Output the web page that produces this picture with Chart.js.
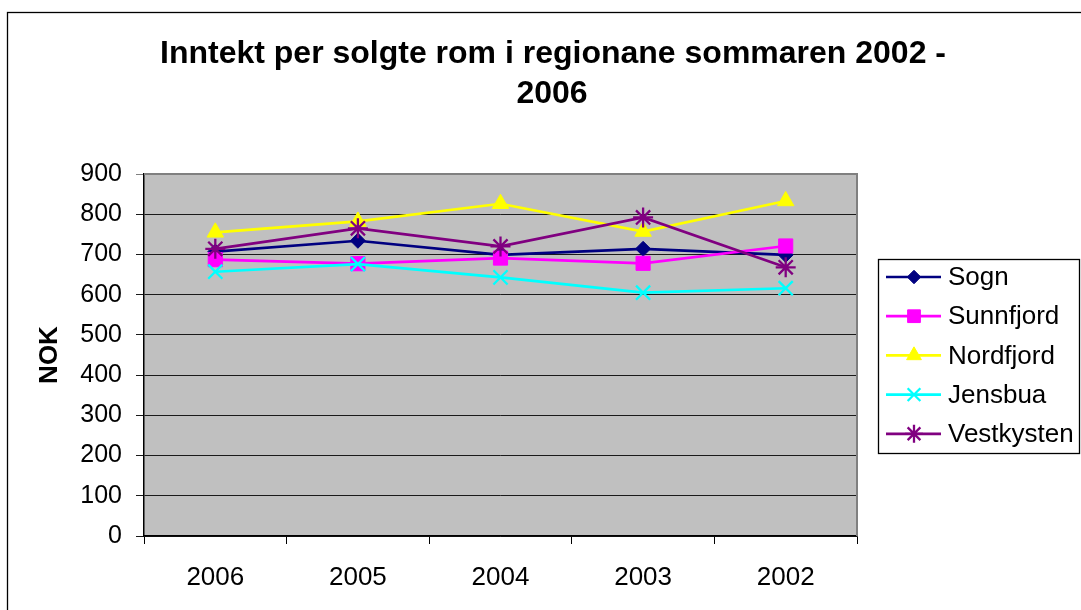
<!DOCTYPE html>
<html>
<head>
<meta charset="utf-8">
<title>Inntekt per solgte rom</title>
<script src="https://cdn.jsdelivr.net/npm/chart.js@4/dist/chart.umd.min.js"></script>
<style>
  html, body { margin: 0; padding: 0; background: #ffffff; }
  #wrap { width: 1081px; height: 610px; }
</style>
</head>
<body>
<div id="wrap"><canvas id="c" width="1081" height="610"></canvas></div>
<script>
// Years on the category axis (newest first)
const years = ['2006', '2005', '2004', '2003', '2002'];

// Income per sold room (NOK) by region
const sogn       = [707, 734, 699, 714, 699];
const sunnfjord  = [687, 677, 691, 678, 721];
const nordfjord  = [755, 782, 826, 757, 833];
const jensbua    = [657, 676, 643, 605, 616];
const vestkysten = [714, 765, 720, 792, 668];

const seriesNames = ['Sogn', 'Sunnfjord', 'Nordfjord', 'Jensbua', 'Vestkysten'];
const yTicks = [0, 100, 200, 300, 400, 500, 600, 700, 800, 900];

const titleLines = ['Inntekt per solgte rom i regionane sommaren 2002 -', '2006'];
const FONT = '"Liberation Sans", Arial, Helvetica, sans-serif';

function series(label, data, color, style, radius, order) {
  const stroked = style === 'crossRot' || style === 'star';
  return {
    label, data,
    borderColor: color,
    backgroundColor: color,
    borderWidth: 2.7,
    tension: 0,
    pointStyle: style,
    pointRadius: radius,
    pointHoverRadius: radius,
    pointBackgroundColor: stroked ? 'rgba(0,0,0,0)' : color,
    pointBorderColor: color,
    pointBorderWidth: stroked ? 2.3 : 1,
    order
  };
}

const datasets = [
  series(seriesNames[0], sogn,       '#000080', 'rectRot',  7.5, 4),
  series(seriesNames[1], sunnfjord,  '#ff00ff', 'rect',     10,  3),
  series(seriesNames[2], nordfjord,  '#ffff00', 'triangle', 9.5, 2),
  series(seriesNames[3], jensbua,    '#00ffff', 'crossRot', 10,  1),
  series(seriesNames[4], vestkysten, '#800080', 'star',     10,  0)
];

// Chart frame, plot background, title and the boxed legend on the right
const decorations = {
  id: 'decorations',
  beforeDraw(chart) {
    const { ctx, chartArea: a } = chart;
    ctx.save();
    ctx.fillStyle = '#ffffff';
    ctx.fillRect(0, 0, chart.width, chart.height);
    ctx.strokeStyle = '#000000';
    ctx.lineWidth = 1.3;
    ctx.strokeRect(7.5, 12.5, 1300, 800);
    ctx.fillStyle = '#c0c0c0';
    ctx.fillRect(a.left, a.top, a.right - a.left, a.bottom - a.top);
    ctx.restore();
  },
  beforeDatasetsDraw(chart) {
    const { ctx, chartArea: a } = chart;
    ctx.save();
    ctx.strokeStyle = '#808080';
    ctx.lineWidth = 2;
    ctx.beginPath();
    ctx.moveTo(a.left, a.top);
    ctx.lineTo(a.right, a.top);
    ctx.lineTo(a.right, a.bottom);
    ctx.stroke();
    ctx.restore();
  },
  afterDraw(chart) {
    const { ctx } = chart;
    ctx.save();
    // title
    ctx.fillStyle = '#000000';
    ctx.font = 'bold 32px ' + FONT;
    ctx.textAlign = 'center';
    ctx.textBaseline = 'middle';
    ctx.fillText(titleLines[0], 553, 54);
    ctx.fillText(titleLines[1], 552, 94);

    // legend box
    const bx = 878, by = 259, bw = 201, bh = 194;
    ctx.strokeStyle = '#000000';
    ctx.lineWidth = 1.3;
    ctx.strokeRect(bx + 0.5, by + 0.5, bw, bh);
    ctx.font = '26px ' + FONT;
    ctx.textAlign = 'left';
    chart.data.datasets.forEach((ds, i) => {
      const y = 277 + i * 39.2;
      ctx.strokeStyle = ds.borderColor;
      ctx.lineWidth = ds.borderWidth;
      ctx.beginPath();
      ctx.moveTo(886, y);
      ctx.lineTo(941, y);
      ctx.stroke();
      ctx.fillStyle = ds.pointBackgroundColor;
      ctx.strokeStyle = ds.pointBorderColor;
      ctx.lineWidth = ds.pointBorderWidth;
      Chart.helpers.drawPoint(ctx, {
        pointStyle: ds.pointStyle,
        radius: ds.pointRadius * 0.9,
        borderWidth: ds.pointBorderWidth,
        rotation: 0
      }, 914, y);
      ctx.fillStyle = '#000000';
      ctx.fillText(ds.label, 948, y + 1);
    });
    ctx.restore();
  }
};

new Chart(document.getElementById('c'), {
  type: 'line',
  data: { labels: years, datasets },
  options: {
    responsive: false,
    animation: false,
    events: [],
    layout: { padding: { top: 174, right: 224, left: 0, bottom: 0 } },
    plugins: {
      legend: { display: false },
      title: { display: false },
      tooltip: { enabled: false }
    },
    scales: {
      x: {
        type: 'category',
        offset: true,
        afterFit(scale) { scale.height = 74; },
        grid: {
          offset: true,
          drawOnChartArea: false,
          drawTicks: true,
          tickLength: 8,
          color: '#000000',
          lineWidth: 1
        },
        border: { display: true, color: '#000000', width: 1.5 },
        ticks: {
          color: '#000000',
          padding: 18,
          maxRotation: 0,
          font: { family: FONT, size: 26 }
        }
      },
      y: {
        type: 'linear',
        min: 0,
        max: 900,
        afterFit(scale) { scale.width = 144; },
        afterBuildTicks(scale) { scale.ticks = yTicks.map(v => ({ value: v })); },
        grid: {
          drawOnChartArea: true,
          drawTicks: true,
          tickLength: 8,
          color: (c) => (c.tick && c.tick.value === yTicks[yTicks.length - 1]) ? '#808080' : '#1a1a1a',
          lineWidth: 1
        },
        border: { display: true, color: '#000000', width: 1.5 },
        ticks: {
          color: '#000000',
          padding: 14,
          font: { family: FONT, size: 25 }
        },
        title: {
          display: true,
          text: 'NOK',
          color: '#000000',
          padding: { top: 34, bottom: 0 },
          font: { family: FONT, size: 26, weight: 'bold' }
        }
      }
    }
  },
  plugins: [decorations]
});
</script>
</body>
</html>
